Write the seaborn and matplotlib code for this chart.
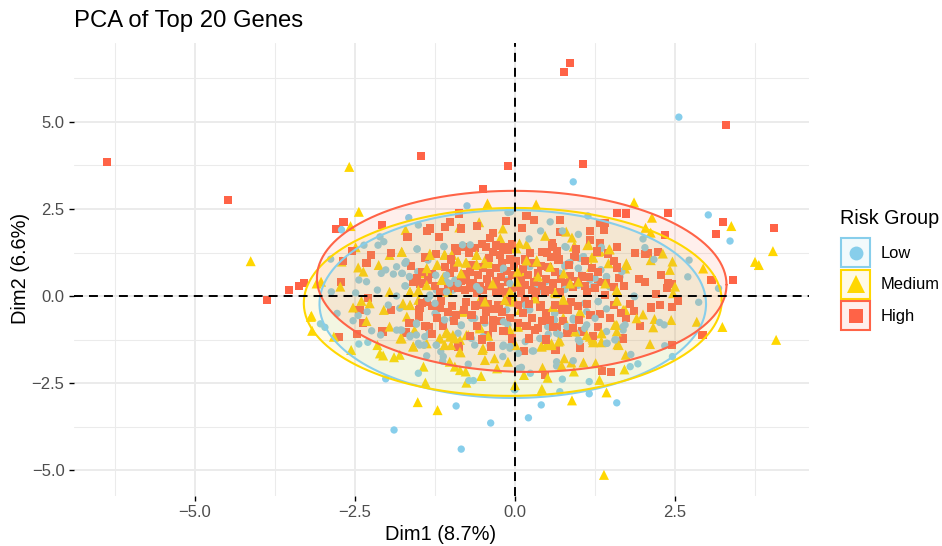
#PCA scatter of top 20 genes, three risk groups with ellipses
import numpy as np
import pandas as pd
import seaborn as sns
import matplotlib.pyplot as plt
from matplotlib.lines import Line2D
from matplotlib.patches import Rectangle

# points (Dim1, Dim2)
high_x = [-6.38,-4.48,-1.47,-0.11,0.77,0.86,1.06,3.30,-0.50,4.05,3.14,3.25,3.41,-3.87,-3.53,-3.37,-3.30,
    -0.88,-2.68,-2.80,-2.08,-1.68,-1.37,-1.33,-1.19,-1.10,-1.02,-0.84,-0.60,-0.34,-0.14,-0.39,-2.25,-1.94,-2.54,-2.32,-2.69,-1.41,-2.72,
    1.59,1.73,2.39,3.25,3.14,2.34,1.17,1.17,1.39,1.33,1.40,0.70,0.70,0.30,0.18,0.11,0.58,1.33,1.87,2.03,2.08,2.24,1.45,1.55,2.28,1.94,2.03,2.37,2.39,2.46,3.07,2.21,
    -2.75,-2.47,-2.07,-1.70,-2.37,-2.43,-1.94,-2.29,-1.49,-1.50,-1.64,-1.41,-1.34,-1.13,-0.99,-0.88,-0.34,-0.45,-0.25,-0.63,
    1.36,1.50,0.47,2.46,2.93,1.69,1.01,0.63,0.14,1.95,2.13,2.26,2.46,2.54,1.86,1.80,0.82,1.30,1.48,0.26,0.36,0.65,0.83,0.73,0.41,1.74,
    -1.41,-1.62,-1.23,-0.94,-0.52,-0.34,-0.24,-0.11,-1.10,-1.02,-1.53,-1.49,-1.36,-0.76,-0.58,-0.29,-0.39,-0.89,-0.78,-0.24,-0.11,-0.50,-1.17,-0.71,
    0.10,0.16,0.23,0.42,0.60,0.57,0.93,1.17,1.46,1.54,0.52,0.36,0.60,1.04,1.20,1.30,1.62,1.41,0.86,0.26,0.47,0.78,1.12,
    -1.50,-1.50,-1.65,-1.39,-1.12,-0.99,-1.17,-0.89,-0.42,-0.34,-0.46,-0.63,-0.26,-0.37,-0.76,-1.38,-0.50,
    0.31,0.39,0.26,0.31,0.49,0.73,0.83,0.83,1.02,0.64,1.04,1.33,1.48,1.69,1.30,0.16]
high_y = [3.85,2.76,4.02,3.74,6.44,6.70,3.79,4.91,3.07,1.95,1.78,2.13,0.46,-0.11,0.17,0.29,0.37,
    2.37,2.13,1.92,2.04,1.70,1.88,1.94,1.70,1.99,2.13,1.94,2.01,1.82,2.16,1.66,1.18,1.24,1.30,0.96,1.01,1.10,0.41,
    2.39,2.37,2.39,2.13,1.79,1.76,1.87,1.61,1.90,2.09,2.11,2.18,1.85,2.18,2.30,1.96,1.51,1.53,1.24,1.21,1.22,1.27,1.22,1.00,0.60,0.50,0.41,0.22,0.38,0.34,0.46,0.06,
    -1.17,-1.08,-1.02,-1.05,-0.77,-0.40,-0.40,-0.07,-0.35,-0.59,-0.78,-0.85,-0.90,-0.86,-0.29,-1.47,-0.93,-0.45,-0.28,-0.28,
    -2.15,-2.18,-2.26,-1.41,-1.12,-1.22,-1.48,-1.55,-1.57,-0.86,-0.33,-0.26,-0.31,-0.14,-0.43,-0.24,-1.07,-0.88,-0.64,-0.64,-0.93,-0.88,-0.40,-0.35,-0.26,-0.64,
    1.11,0.86,1.21,1.37,1.50,1.27,1.18,1.32,0.84,0.65,0.51,0.36,0.46,0.46,0.60,0.80,0.65,0.22,0.17,0.27,0.41,0.17,0.12,0.70,
    0.46,0.32,1.23,1.27,1.42,1.13,1.13,1.61,1.23,1.00,0.84,0.65,0.36,0.56,0.80,0.41,0.51,0.03,0.56,0.17,0.12,0.36,0.12,
    -0.40,-0.59,-0.78,-0.85,-0.85,-0.28,-0.35,-1.45,-1.12,-0.69,-0.45,-0.26,-0.26,-1.45,-0.16,-0.16,-0.11,
    -0.07,-0.31,-0.64,-0.98,-0.50,-0.40,-0.35,-1.07,-1.48,-1.55,-1.02,-0.52,-0.64,-1.22,-0.88,-0.11]
# the crowded middle, estimated from the crops
high_center = [(-0.90,1.30),(-0.80,1.42),(-0.72,1.25),(-0.62,1.38),(-0.45,1.42),(-0.40,1.10),(-0.30,1.45),(-0.18,1.40),(-0.05,1.48),(-0.20,0.95),
    (-0.08,1.05),(-0.02,0.85),(-0.12,0.72),(-0.22,0.55),(-0.05,0.60),(-0.30,0.42),(-0.44,0.48),(-0.65,0.38),(-0.85,0.42),(-0.95,0.30),(-0.70,0.22),
    (-0.55,0.30),(-0.40,0.30),(-0.18,0.10),(-0.05,0.22),(-0.30,0.12),(-0.60,0.08),(-1.05,0.20),(-1.25,0.30),(-0.95,0.80),(-0.80,0.62),(-0.50,0.82),
    (-0.68,0.90),(-1.30,0.62),(-1.45,0.70),(-1.60,0.40),(-1.00,1.05),
    (0.05,0.25),(0.05,0.60),(0.12,0.78),(0.02,1.00),(0.15,1.05),(0.28,0.95),(0.20,0.60),(0.30,0.40),(0.42,0.30),(0.48,0.50),(0.40,0.85),(0.50,1.25),
    (0.66,1.30),(0.68,1.05),(0.62,0.70),(0.72,0.50),(0.55,0.18),(0.70,0.12),(0.90,0.25),(0.98,0.42),(1.10,0.30),(1.25,0.22),(1.15,0.55),(1.30,0.68),
    (1.42,0.38),(1.55,0.25),(1.70,0.30),(1.10,1.00),(0.85,0.88),(1.60,0.82),(0.95,1.35),(1.28,1.28),(1.60,1.42),(0.10,0.10),(0.32,0.10),
    (-1.45,-0.20),(-1.30,-0.30),(-1.15,-0.15),(-1.05,-0.45),(-0.92,-0.55),(-0.80,-0.40),(-0.68,-0.55),(-0.55,-0.25),(-0.42,-0.22),(-0.33,-0.38),
    (-0.20,-0.45),(-0.12,-0.15),(-0.08,-0.62),(-0.22,-0.72),(-0.48,-0.70),(-0.60,-0.85),(-0.95,-0.72),(-1.22,-0.62),(-1.30,-1.08),(-0.70,-1.15),
    (-0.52,-1.25),(-0.18,-1.00),(-0.05,-1.22),
    (0.05,-0.25),(0.22,-0.22),(0.12,-0.48),(0.05,-0.78),(0.18,-0.85),(0.42,-0.72),(0.55,-0.68),(0.62,-0.25),(0.60,-0.88),(0.75,-0.72),(0.88,-0.18),
    (0.98,-0.28),(1.12,-0.22),(1.18,-0.55),(1.00,-0.70),(1.22,-1.15),(0.48,-1.25),(0.22,-1.22),(1.55,-0.25),(1.65,-0.48),(0.90,-0.92)]

medium_x = [-2.59,-4.13,-3.19,1.39,4.08,4.03,3.75,3.81,3.38,-2.44,
    -0.43,-2.57,-1.71,-0.56,-0.87,-0.19,-0.23,-2.49,-1.77,-1.96,-1.33,-1.10,-0.98,-0.60,-2.71,-2.13,-2.45,-2.37,-1.37,-1.21,-0.89,-0.77,-0.47,-0.39,-0.60,-0.84,-3.10,-3.03,-2.73,-1.38,-1.41,-0.35,-1.96,-1.64,-1.51,-1.12,-0.11,0.02,
    0.33,1.86,2.14,2.04,2.12,0.80,0.47,0.89,0.07,0.18,0.00,0.92,1.13,1.33,1.48,2.31,2.12,2.46,2.42,2.94,1.74,1.72,1.46,1.20,1.22,1.19,0.56,0.34,0.18,0.33,0.10,0.87,1.43,1.59,0.73,0.62,2.50,2.47,
    -3.18,-3.17,-2.83,-2.56,-2.11,-2.06,-1.89,-1.80,-2.15,-1.43,-1.40,-1.52,-1.21,-0.76,-0.53,-0.28,-0.77,-0.94,-0.86,-1.02,-0.85,-1.59,-1.79,-1.96,-2.32,-2.53,-2.05,-1.69,-1.57,-1.38,-1.18,-1.10,-1.07,-0.97,-0.86,-0.76,-0.55,-0.42,-0.51,-0.47,-0.32,-0.11,0.01,-0.08,-1.75,-1.64,-0.81,-2.40,-2.27,-0.55,-0.47,-1.51,
    3.24,2.84,2.44,2.18,2.16,2.11,1.73,1.71,1.43,1.32,1.26,1.07,0.88,0.92,0.77,0.73,0.43,0.51,0.14,0.42,0.89,0.00,1.60,1.35,1.22,1.21,0.70,0.57,0.49,0.41,-0.03,1.59,1.72,2.00,1.90,1.59,0.75,0.59,1.01,1.35,1.17,1.56,0.08,0.03,0.75,0.31,-0.08,-0.05,0.00,
    -1.77,-1.33,-1.10,-0.99,-0.60,-0.89,-0.76,-1.22,-1.38,-0.46,-0.60,-0.84,-1.15,-1.38,-1.51,-1.64,-1.04,-0.35,-0.08]
medium_y = [3.71,1.00,-0.60,-5.14,-1.26,1.29,0.98,0.89,2.01,2.42,
    2.66,2.01,1.90,2.12,1.97,1.94,1.66,1.40,1.27,1.18,1.22,1.20,1.18,1.18,0.99,0.89,0.82,0.70,0.77,0.89,0.99,0.96,1.03,0.94,0.89,0.65,0.36,0.41,0.27,0.31,0.65,0.31,0.12,0.12,0.12,0.55,0.12,1.37,
    2.63,2.69,2.25,1.96,1.82,1.85,1.73,1.68,1.51,1.49,1.39,1.42,1.46,1.29,1.34,1.22,1.03,0.99,0.75,0.79,0.94,0.79,0.94,1.11,1.11,0.84,0.84,1.03,1.03,0.55,0.65,0.36,0.41,0.17,0.55,0.12,0.27,0.08,
    -0.57,-1.00,-1.17,-1.55,-1.65,-1.71,-1.76,-1.69,-1.41,-2.03,-2.49,-3.05,-3.28,-2.49,-2.30,-2.08,-2.17,-2.03,-2.13,-1.89,-1.62,-1.45,-1.22,-0.88,-0.72,-0.33,-0.40,-0.59,-0.98,-1.36,-1.22,-1.41,-1.02,-1.12,-1.26,-1.12,-0.93,-1.14,-1.55,-1.84,-1.79,-1.89,-1.41,-0.16,-0.26,-0.26,-0.45,-0.14,-0.21,-0.11,-0.11,-0.11,
    -0.89,-0.74,-0.69,-0.66,-0.90,-1.38,-1.69,-2.11,-2.77,-2.41,-1.93,-1.91,-1.91,-2.17,-1.79,-2.00,-2.06,-2.35,-2.27,-2.67,-3.00,-2.56,-1.39,-1.33,-1.33,-1.22,-1.28,-1.41,-1.41,-1.45,-1.41,-1.02,-0.40,-0.53,-0.64,-0.11,-0.64,-0.31,-0.47,-1.07,-1.17,-0.83,-0.40,-0.88,-0.09,-0.07,-0.10,0.05,-0.15,
    1.27,1.18,1.18,1.18,1.18,0.99,0.96,0.89,0.80,0.94,0.92,0.65,0.46,0.32,0.17,0.12,0.12,0.36,0.12]
medium_center = [(0.93,1.44),(1.15,1.47),(1.30,1.27),(1.47,1.34),(1.22,1.11),(0.34,0.99),(0.18,1.02),(0.55,0.84),(0.36,0.56),(0.86,0.36),(1.41,0.36),
    (1.59,0.17),(0.63,0.08),(1.75,0.89),(0.76,0.65),(0.04,0.70),(0.03,0.41),(0.99,0.41),
    (-1.64,-0.26),(-1.75,-0.21),(-0.84,-0.45),(-1.17,-1.22),(-1.07,-1.07),(-1.02,-1.17),(-0.94,-1.22),(-0.55,-0.88),(-0.73,-1.12),(-0.42,-1.14),
    (-1.59,-1.45),(-1.10,-1.41),(-1.00,-1.41),(-0.50,-1.50),(-0.86,-1.60),(-1.77,-1.22),(-0.08,-0.98),(-0.47,-0.16),(-0.16,-0.11),
    (0.08,-0.40),(0.05,-0.88),(0.60,-0.31),(0.76,-0.64),(1.02,-0.47),(1.59,-0.83),(1.69,-0.40),(0.42,-1.45),(0.49,-1.41),(0.57,-1.36),(0.68,-1.31),
    (1.22,-1.26),(1.35,-1.07),(1.35,-1.31),(1.62,-1.41),(0.94,-1.02),(1.12,-1.12),(0.76,-0.11),(1.59,-0.14)]

low_x = [2.56,0.91,3.02,3.36,-0.75,-2.73,-1.89,-0.84,-0.38,-0.92,0.41,1.59,
    -1.66,-1.51,-0.11,-2.71,-2.11,-2.05,-2.14,-2.36,-2.88,-1.53,-1.11,-0.82,-0.70,-1.70,-1.72,-1.85,-2.02,-1.90,-1.77,-2.09,-1.64,-1.52,-1.24,-2.44,-2.32,-2.15,-1.71,-2.87,-2.49,-1.85,-1.33,-1.23,-0.97,-1.07,-0.94,-0.58,-0.19,-0.13,-1.36,
    1.14,0.55,0.40,0.22,0.74,0.99,0.80,1.35,2.00,2.03,2.17,2.72,2.70,3.18,1.86,1.01,1.07,0.83,0.78,0.99,1.34,1.43,1.64,0.70,1.04,1.17,0.98,0.34,0.41,1.48,0.77,1.22,0.23,-0.07,
    -3.04,-2.97,-2.78,-2.53,-2.45,-2.31,-2.24,-2.10,-2.44,-2.30,-2.02,-1.51,-0.72,-0.65,0.00,-0.73,-1.38,-1.16,-1.12,-1.13,-1.23,-1.49,-1.42,-1.85,-1.79,-1.64,-1.54,-1.41,-1.34,-1.54,-1.23,-1.11,-0.98,-0.84,-0.89,-0.68,-0.63,-0.19,-0.08,-0.19,-0.39,-0.47,-0.63,-0.13,0.06,-1.80,-1.98,-1.38,-1.25,
    0.21,1.16,-0.01,0.70,0.74,1.16,0.24,0.10,0.65,0.65,0.91,1.80,1.92,1.81,2.34,2.46,2.87,2.33,2.26,0.05,0.27,0.39,0.52,0.62,0.91,1.12,1.30,1.43,1.87,1.69,1.43,1.44,1.12,0.96,0.70,0.51,0.18,1.72,1.58,1.01]
low_y = [5.14,3.28,2.33,1.58,2.59,1.93,-3.85,-4.40,-3.65,-3.16,-3.13,-3.07,
    2.25,2.04,2.40,1.90,1.70,1.56,1.46,1.46,1.06,1.35,1.42,1.46,1.44,0.99,0.94,0.84,0.75,0.63,0.65,0.65,0.53,0.70,0.60,0.46,0.41,0.17,0.29,0.12,0.09,0.00,0.03,0.17,0.17,0.41,0.46,0.27,0.75,0.46,1.03,
    2.30,2.13,1.87,1.64,1.87,1.77,1.40,1.37,1.64,1.39,1.05,1.03,0.55,0.22,0.00,1.08,1.13,0.94,0.84,0.79,0.75,0.55,0.55,0.65,0.60,0.46,0.31,0.31,0.17,0.27,0.19,0.27,0.84,2.42,
    -0.80,-0.90,-0.50,-0.71,-0.56,-0.45,-1.00,-1.12,-1.38,-1.33,-2.38,-2.22,-2.43,-2.43,-2.69,-1.96,-1.72,-1.60,-1.74,-1.87,-1.41,-1.41,-1.41,-0.98,-0.98,-1.14,-1.12,-1.17,-1.07,-0.81,-0.50,-0.69,-0.66,-0.83,-1.07,-1.22,-1.41,-1.45,-1.50,-1.74,-1.41,-0.78,-0.64,-0.40,-2.08,-0.35,-0.26,-0.11,-0.24,
    -3.50,-2.81,-2.69,-2.75,-2.39,-2.46,-2.22,-2.05,-1.89,-2.01,-1.86,-2.03,-1.95,-1.68,-1.43,-1.74,-0.18,-0.83,-0.76,-1.65,-1.58,-1.22,-1.10,-0.50,-0.69,-0.45,-0.16,-0.37,-0.02,-0.98,-1.02,-1.36,-0.83,-1.07,-1.12,-0.88,-0.40,-0.83,-1.26,-1.31]
low_center = [(0.78,0.89),(0.86,0.96),(0.99,0.80),(1.07,1.13),(0.70,0.65),(0.34,0.35),(0.48,0.41),(0.78,0.19),(1.00,0.32),(1.25,0.51),(1.34,0.75),
    (1.48,0.27),(1.43,0.56),(1.67,0.70),(1.25,0.27),(1.35,1.40),(0.78,1.42),
    (-1.53,1.35),(-1.11,1.42),(-0.82,1.47),(-0.70,1.47),(-1.71,0.96),(-1.76,0.65),(-1.65,0.56),(-1.24,0.60),(-1.07,0.60),(-1.33,0.00),(-1.72,0.29),
    (-0.18,0.80),(-1.02,0.36),(-0.89,0.36),(-0.60,0.27),(-0.55,0.17),(-0.08,0.36),(-1.07,0.12),
    (-1.54,-0.78),(-1.25,-0.50),(-1.10,-0.69),(-0.97,-0.64),(-0.84,-0.85),(-0.68,-0.64),(-0.50,-1.17),(-0.18,-1.41),(-0.08,-1.45),(-1.64,-1.17),
    (-1.51,-1.36),(-1.42,-1.41),(-1.23,-1.41),(-1.33,-1.07),(-0.11,-0.83),(-0.18,-0.74),(-1.36,-0.07),(-1.25,-0.21),(-1.77,-0.98),
    (0.16,-0.26),(0.23,-0.40),(0.62,-0.50),(0.62,-0.69),(0.52,-0.88),(0.65,-1.07),(0.39,-1.22),(0.16,-1.31),(0.29,-1.58),(0.91,-0.64),(1.09,-0.93),
    (1.09,-0.21),(1.30,-0.16),(1.25,-0.64),(0.99,-1.26),(1.43,-1.36),(1.56,-1.26),(1.69,-0.88),(0.81,-0.88)]

groups = ['Low', 'Medium', 'High']
colors = {'Low': '#87CEEB', 'Medium': '#FFD700', 'High': '#FF6347'}
shapes = {'Low': 'o', 'Medium': '^', 'High': 's'}
sizes = {'Low': 28, 'Medium': 52, 'High': 34}

# ellipse centre, half widths and lean, one entry per group
ell_cx = [-0.035, -0.035, 0.105]
ell_cy = [-0.23, -0.17, 0.42]
ell_a = [3.02, 3.265, 3.2]
ell_b = [2.70, 2.70, 2.60]
ell_lean = [0.0, 0.01, -0.03]

parts = []
for name, xs, ys, extra in zip(groups, [low_x, medium_x, high_x], [low_y, medium_y, high_y],
                               [low_center, medium_center, high_center]):
    part = pd.DataFrame({'Dim1': xs + [p[0] for p in extra], 'Dim2': ys + [p[1] for p in extra]})
    part['group'] = name
    part['rank'] = np.arange(len(part)) / len(part)
    parts.append(part)
df = pd.concat(parts).sort_values('rank', kind='stable').reset_index(drop=True)

sns.set_theme(style='white')
plt.rcParams['font.family'] = ['Liberation Sans', 'DejaVu Sans']

fig = plt.figure(figsize=(9.42, 5.46), dpi=100)
ax = fig.add_axes([74 / 942, 1 - 496 / 546, (809 - 74) / 942, (496 - 43) / 546])

sns.scatterplot(data=df, x='Dim1', y='Dim2', hue='group', style='group', size='group',
                palette=colors, markers=shapes, sizes=sizes, linewidth=0, legend=False,
                ax=ax, zorder=3)

t = np.linspace(0, 2 * np.pi, 300)
for i, name in enumerate(groups):
    ex = ell_cx[i] + ell_a[i] * np.cos(t)
    ey = ell_cy[i] + ell_b[i] * np.sin(t) + ell_lean[i] * ell_a[i] * np.cos(t)
    ax.fill(ex, ey, color=colors[name], alpha=0.1, lw=0, zorder=4)
    ax.plot(ex, ey, color=colors[name], lw=1.5, zorder=5)

ax.axhline(0, color='black', lw=1.4, ls=(0, (4.6, 3.1)), zorder=6)
ax.axvline(0, color='black', lw=1.4, ls=(0, (4.6, 3.1)), zorder=6)

ax.set_xlim((74 - 515) / 64, (809 - 515) / 64)
ax.set_ylim((296 - 496) / 34.8, (296 - 43) / 34.8)

ax.set_xticks([-5, -2.5, 0, 2.5])
ax.set_xticklabels(['\u22125.0', '\u22122.5', '0.0', '2.5'])
ax.set_yticks([-5, -2.5, 0, 2.5, 5])
ax.set_yticklabels(['\u22125.0', '\u22122.5', '0.0', '2.5', '5.0'])
ax.set_xticks([-6.25, -3.75, -1.25, 1.25, 3.75], minor=True)
ax.set_yticks([-3.75, -1.25, 1.25, 3.75, 6.25], minor=True)
ax.grid(True, which='major', color='#EBEBEB', lw=1.4)
ax.grid(True, which='minor', color='#EBEBEB', lw=0.75)
ax.set_axisbelow(True)
ax.tick_params(axis='both', which='major', length=3.8, width=1.0, color='black',
               labelcolor='#4D4D4D', labelsize=12, pad=3, bottom=True, left=True)
ax.tick_params(axis='both', which='minor', length=0)
sns.despine(ax=ax, left=True, bottom=True, right=True, top=True)

ax.set_xlabel('')
ax.set_ylabel('')
fig.text(441 / 942, 1 - 534 / 546, 'Dim1 (8.7%)', fontsize=14.4, ha='center', va='center', color='black')
fig.text(21 / 942, 1 - 268 / 546, 'Dim2 (6.6%)', fontsize=14.4, rotation=90, ha='center', va='center', color='black')
fig.text(74 / 942, 1 - 21 / 546, 'PCA of Top 20 Genes', fontsize=17.2, ha='left', va='center', color='black')

# legend keys drawn by hand to get the boxed look
fig.text(840 / 942, 1 - 218 / 546, 'Risk Group', fontsize=14.2, ha='left', va='center', color='black')
key_tops = [238, 269.5, 301]
for top, name in zip(key_tops, groups):
    fig.add_artist(Rectangle((841 / 942, 1 - (top + 29) / 546), 29 / 942, 29 / 546,
                             transform=fig.transFigure, facecolor=colors[name] + '1A',
                             edgecolor=colors[name], lw=1.5))
    fig.add_artist(Line2D([855.5 / 942], [1 - (top + 14.5) / 546], transform=fig.transFigure,
                          marker=shapes[name], color=colors[name], ms=10 if name != 'Medium' else 12.5,
                          mew=0, ls='none'))
    fig.text(881 / 942, 1 - (top + 15) / 546, name, fontsize=11.9, ha='left', va='center', color='black')

fig.savefig('out.png', dpi=100)
